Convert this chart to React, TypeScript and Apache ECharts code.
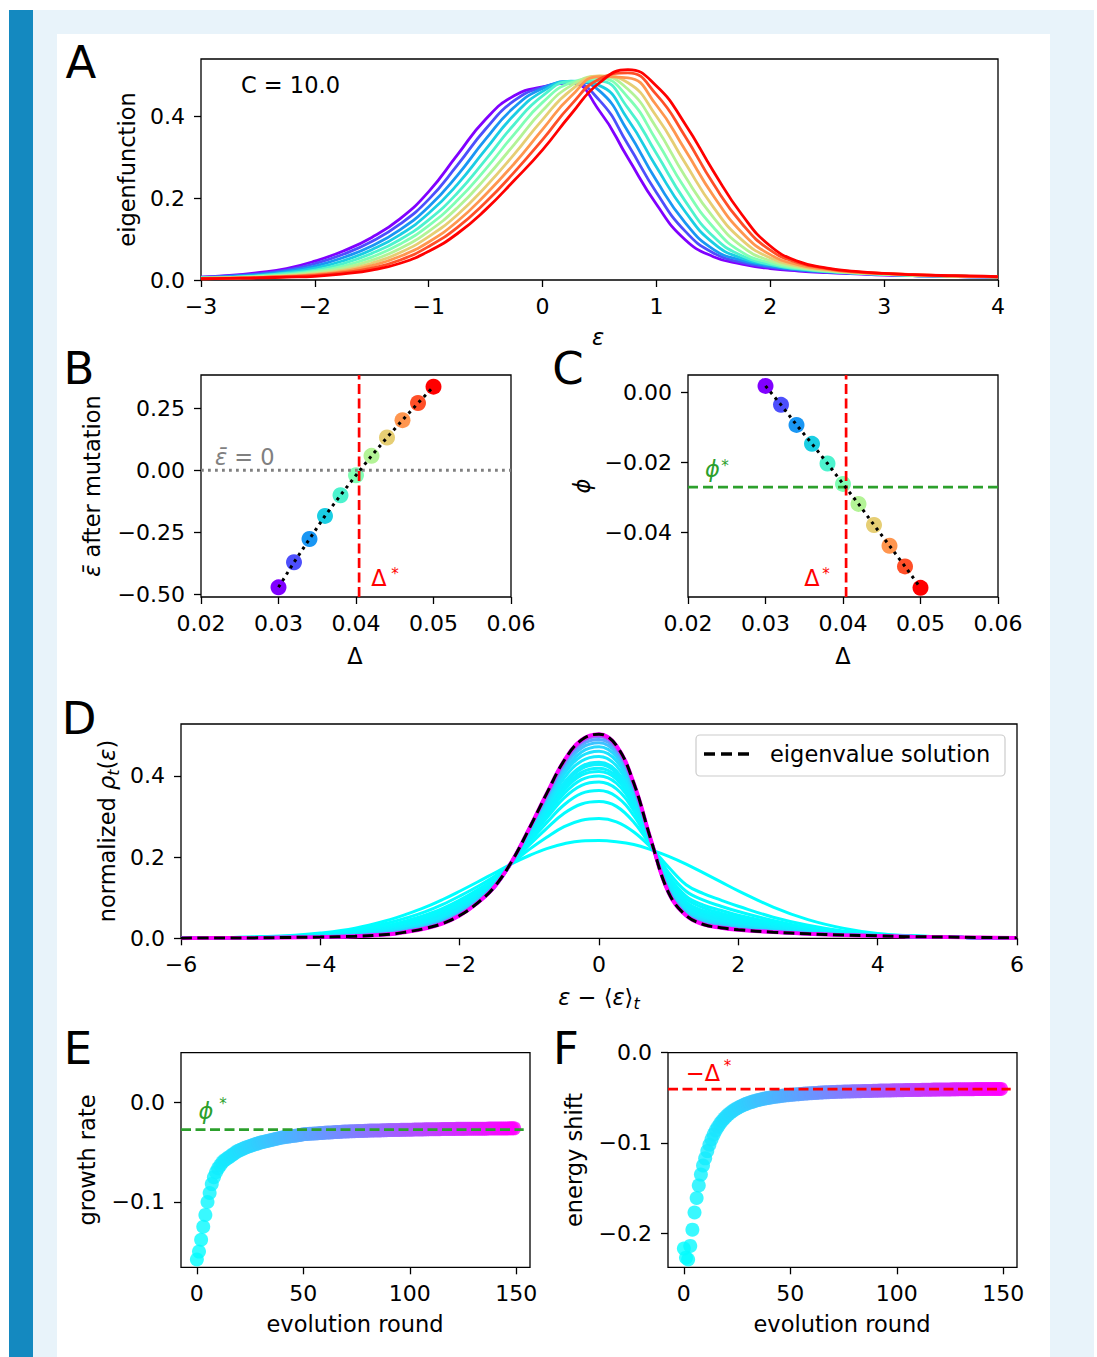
import React, { useEffect, useRef } from "react";
import * as echarts from "echarts";

// ---------------- DATA ----------------
// Panel A: eigenfunctions for 11 values of Delta (C = 10.0)
const A_EPS = [-3, -2.75, -2.5, -2.25, -2, -1.75, -1.5, -1.25, -1, -0.75, -0.5, -0.25, 0, 0.25, 0.5, 0.75, 1, 1.25, 1.5, 1.75, 2, 2.25, 2.5, 2.75, 3, 3.25, 3.5, 3.75, 4];
const A_EIGENFUNCTIONS = [
  [0.007, 0.011, 0.018, 0.028, 0.046, 0.071, 0.104, 0.150, 0.216, 0.305, 0.393, 0.450, 0.472, 0.481, 0.413, 0.298, 0.185, 0.099, 0.057, 0.039, 0.028, 0.022, 0.018, 0.015, 0.012, 0.011, 0.009, 0.008, 0.007],
  [0.007, 0.010, 0.015, 0.024, 0.040, 0.063, 0.094, 0.137, 0.197, 0.280, 0.369, 0.438, 0.471, 0.482, 0.439, 0.331, 0.214, 0.120, 0.066, 0.043, 0.031, 0.024, 0.019, 0.016, 0.013, 0.011, 0.009, 0.008, 0.007],
  [0.006, 0.009, 0.013, 0.021, 0.034, 0.055, 0.083, 0.123, 0.179, 0.255, 0.344, 0.422, 0.468, 0.485, 0.462, 0.363, 0.243, 0.141, 0.075, 0.048, 0.034, 0.025, 0.020, 0.017, 0.014, 0.011, 0.010, 0.009, 0.008],
  [0.005, 0.007, 0.011, 0.018, 0.029, 0.047, 0.074, 0.111, 0.163, 0.233, 0.319, 0.403, 0.461, 0.486, 0.475, 0.392, 0.276, 0.168, 0.090, 0.053, 0.037, 0.027, 0.021, 0.018, 0.015, 0.012, 0.011, 0.009, 0.008],
  [0.005, 0.006, 0.010, 0.016, 0.024, 0.040, 0.065, 0.099, 0.147, 0.212, 0.294, 0.380, 0.450, 0.485, 0.486, 0.420, 0.309, 0.194, 0.106, 0.059, 0.038, 0.027, 0.021, 0.017, 0.014, 0.011, 0.010, 0.008, 0.008],
  [0.005, 0.006, 0.009, 0.013, 0.021, 0.034, 0.056, 0.088, 0.133, 0.194, 0.271, 0.356, 0.434, 0.482, 0.493, 0.446, 0.341, 0.224, 0.129, 0.068, 0.042, 0.029, 0.022, 0.017, 0.014, 0.012, 0.010, 0.009, 0.008],
  [0.004, 0.005, 0.008, 0.011, 0.018, 0.029, 0.048, 0.077, 0.119, 0.176, 0.249, 0.331, 0.414, 0.475, 0.498, 0.466, 0.372, 0.254, 0.153, 0.082, 0.047, 0.031, 0.023, 0.018, 0.015, 0.012, 0.010, 0.009, 0.008],
  [0.004, 0.005, 0.007, 0.010, 0.015, 0.024, 0.041, 0.067, 0.106, 0.159, 0.228, 0.307, 0.392, 0.464, 0.499, 0.482, 0.400, 0.287, 0.178, 0.098, 0.054, 0.034, 0.024, 0.018, 0.015, 0.012, 0.010, 0.009, 0.008],
  [0.004, 0.005, 0.006, 0.009, 0.013, 0.021, 0.035, 0.058, 0.093, 0.143, 0.209, 0.284, 0.368, 0.449, 0.497, 0.494, 0.427, 0.319, 0.206, 0.116, 0.062, 0.037, 0.026, 0.019, 0.016, 0.013, 0.011, 0.009, 0.008],
  [0.003, 0.004, 0.006, 0.008, 0.011, 0.018, 0.029, 0.049, 0.082, 0.128, 0.190, 0.263, 0.343, 0.428, 0.491, 0.506, 0.453, 0.352, 0.235, 0.138, 0.073, 0.042, 0.028, 0.020, 0.016, 0.013, 0.011, 0.009, 0.008],
  [0.003, 0.004, 0.005, 0.007, 0.009, 0.015, 0.024, 0.041, 0.070, 0.113, 0.172, 0.243, 0.318, 0.405, 0.482, 0.514, 0.474, 0.382, 0.266, 0.160, 0.083, 0.045, 0.029, 0.021, 0.016, 0.013, 0.011, 0.010, 0.008],
];

// Panels B and C
const B_DELTA = [0.030, 0.032, 0.034, 0.036, 0.038, 0.040, 0.042, 0.044, 0.046, 0.048, 0.050];
const B_EPS_BAR = [-0.472, -0.371, -0.277, -0.184, -0.101, -0.020, 0.058, 0.132, 0.202, 0.271, 0.337];
const C_PHI = [0.0018, -0.0036, -0.0093, -0.0147, -0.0203, -0.0261, -0.0318, -0.0378, -0.0437, -0.0496, -0.0557];
const DELTA_STAR = 0.0404;
const PHI_STAR = -0.027;

// Panel D: normalized densities at selected evolution rounds
const D_EPS = [-6, -5.5, -5, -4.5, -4, -3.5, -3, -2.75, -2.5, -2.25, -2, -1.75, -1.5, -1.25, -1, -0.75, -0.5, -0.25, 0, 0.25, 0.5, 0.75, 1, 1.25, 1.5, 1.75, 2, 2.5, 3, 3.5, 4, 4.5, 5, 5.5, 6];
const D_ROUNDS = [0, 1, 2, 3, 4, 5, 6, 7, 8, 9, 12, 17, 23, 35, 50, 80, 110, 149];
const D_DENSITIES = [
  [0.000, 0.001, 0.003, 0.006, 0.013, 0.025, 0.046, 0.060, 0.076, 0.095, 0.116, 0.138, 0.161, 0.184, 0.204, 0.221, 0.233, 0.240, 0.241, 0.238, 0.231, 0.218, 0.202, 0.183, 0.161, 0.139, 0.117, 0.077, 0.046, 0.025, 0.012, 0.006, 0.003, 0.001, 0.000],
  [0.000, 0.001, 0.003, 0.005, 0.011, 0.021, 0.039, 0.051, 0.065, 0.083, 0.104, 0.127, 0.153, 0.185, 0.219, 0.249, 0.275, 0.291, 0.295, 0.287, 0.262, 0.223, 0.175, 0.132, 0.110, 0.094, 0.079, 0.052, 0.032, 0.018, 0.010, 0.006, 0.003, 0.001, 0.000],
  [0.000, 0.001, 0.002, 0.004, 0.009, 0.018, 0.033, 0.044, 0.057, 0.073, 0.094, 0.119, 0.147, 0.185, 0.230, 0.271, 0.308, 0.331, 0.337, 0.325, 0.286, 0.226, 0.162, 0.116, 0.094, 0.079, 0.066, 0.044, 0.027, 0.016, 0.009, 0.005, 0.003, 0.001, 0.000],
  [0.000, 0.001, 0.002, 0.004, 0.008, 0.016, 0.029, 0.039, 0.052, 0.067, 0.088, 0.113, 0.143, 0.186, 0.237, 0.285, 0.329, 0.357, 0.364, 0.349, 0.302, 0.228, 0.153, 0.104, 0.082, 0.069, 0.057, 0.039, 0.024, 0.015, 0.008, 0.005, 0.003, 0.001, 0.000],
  [0.000, 0.001, 0.002, 0.004, 0.007, 0.014, 0.026, 0.036, 0.047, 0.063, 0.083, 0.109, 0.140, 0.186, 0.243, 0.296, 0.346, 0.377, 0.385, 0.368, 0.314, 0.230, 0.147, 0.097, 0.075, 0.062, 0.052, 0.035, 0.022, 0.013, 0.008, 0.005, 0.003, 0.001, 0.000],
  [0.000, 0.001, 0.002, 0.004, 0.007, 0.013, 0.024, 0.033, 0.044, 0.059, 0.080, 0.106, 0.137, 0.187, 0.247, 0.304, 0.357, 0.391, 0.400, 0.382, 0.323, 0.231, 0.142, 0.090, 0.068, 0.057, 0.047, 0.032, 0.020, 0.013, 0.008, 0.005, 0.003, 0.001, 0.000],
  [0.000, 0.001, 0.002, 0.003, 0.006, 0.012, 0.023, 0.031, 0.042, 0.057, 0.077, 0.104, 0.136, 0.187, 0.250, 0.309, 0.366, 0.402, 0.411, 0.392, 0.329, 0.232, 0.138, 0.085, 0.063, 0.052, 0.043, 0.029, 0.019, 0.012, 0.007, 0.005, 0.003, 0.001, 0.000],
  [0.000, 0.001, 0.002, 0.003, 0.006, 0.011, 0.022, 0.030, 0.041, 0.055, 0.075, 0.102, 0.135, 0.187, 0.252, 0.313, 0.372, 0.409, 0.419, 0.399, 0.334, 0.233, 0.135, 0.081, 0.059, 0.049, 0.040, 0.027, 0.018, 0.011, 0.007, 0.005, 0.003, 0.001, 0.000],
  [0.000, 0.001, 0.002, 0.003, 0.006, 0.011, 0.020, 0.029, 0.039, 0.053, 0.073, 0.100, 0.133, 0.187, 0.255, 0.318, 0.379, 0.418, 0.428, 0.407, 0.339, 0.234, 0.133, 0.078, 0.056, 0.045, 0.037, 0.026, 0.017, 0.011, 0.007, 0.005, 0.003, 0.001, 0.000],
  [0.000, 0.001, 0.002, 0.003, 0.006, 0.010, 0.019, 0.028, 0.038, 0.052, 0.072, 0.099, 0.132, 0.187, 0.256, 0.321, 0.384, 0.424, 0.434, 0.413, 0.342, 0.234, 0.131, 0.075, 0.053, 0.043, 0.035, 0.024, 0.016, 0.011, 0.007, 0.005, 0.003, 0.001, 0.000],
  [0.000, 0.001, 0.002, 0.003, 0.005, 0.009, 0.018, 0.025, 0.035, 0.048, 0.069, 0.096, 0.131, 0.188, 0.260, 0.328, 0.395, 0.437, 0.448, 0.425, 0.350, 0.235, 0.126, 0.070, 0.048, 0.038, 0.032, 0.022, 0.015, 0.010, 0.007, 0.004, 0.003, 0.001, 0.000],
  [0.000, 0.001, 0.002, 0.003, 0.005, 0.008, 0.016, 0.023, 0.032, 0.045, 0.066, 0.094, 0.129, 0.188, 0.264, 0.335, 0.405, 0.449, 0.461, 0.437, 0.358, 0.237, 0.123, 0.066, 0.044, 0.035, 0.029, 0.020, 0.014, 0.009, 0.006, 0.004, 0.003, 0.001, 0.000],
  [0.000, 0.001, 0.001, 0.002, 0.004, 0.007, 0.014, 0.021, 0.030, 0.043, 0.063, 0.091, 0.128, 0.189, 0.267, 0.341, 0.413, 0.459, 0.472, 0.447, 0.364, 0.237, 0.120, 0.063, 0.041, 0.032, 0.026, 0.018, 0.013, 0.009, 0.006, 0.004, 0.003, 0.001, 0.000],
  [0.000, 0.001, 0.001, 0.002, 0.004, 0.007, 0.013, 0.020, 0.028, 0.041, 0.061, 0.089, 0.126, 0.189, 0.269, 0.346, 0.422, 0.469, 0.482, 0.456, 0.370, 0.238, 0.117, 0.060, 0.038, 0.030, 0.024, 0.017, 0.012, 0.008, 0.006, 0.004, 0.003, 0.001, 0.000],
  [0.000, 0.001, 0.001, 0.002, 0.003, 0.006, 0.012, 0.018, 0.027, 0.039, 0.059, 0.088, 0.126, 0.189, 0.270, 0.350, 0.428, 0.477, 0.490, 0.463, 0.375, 0.239, 0.115, 0.059, 0.037, 0.028, 0.023, 0.016, 0.012, 0.008, 0.006, 0.004, 0.003, 0.001, 0.000],
  [0.000, 0.001, 0.001, 0.002, 0.003, 0.005, 0.011, 0.017, 0.025, 0.037, 0.058, 0.087, 0.127, 0.190, 0.271, 0.354, 0.433, 0.483, 0.497, 0.469, 0.378, 0.239, 0.113, 0.057, 0.035, 0.027, 0.022, 0.016, 0.011, 0.008, 0.006, 0.004, 0.003, 0.001, 0.000],
  [0.000, 0.001, 0.001, 0.002, 0.003, 0.005, 0.010, 0.017, 0.025, 0.037, 0.057, 0.086, 0.127, 0.190, 0.271, 0.355, 0.436, 0.486, 0.500, 0.472, 0.380, 0.240, 0.112, 0.057, 0.035, 0.026, 0.021, 0.015, 0.011, 0.008, 0.006, 0.004, 0.003, 0.001, 0.000],
  [0.000, 0.001, 0.001, 0.002, 0.003, 0.005, 0.010, 0.016, 0.024, 0.036, 0.056, 0.086, 0.127, 0.190, 0.271, 0.357, 0.438, 0.489, 0.503, 0.475, 0.382, 0.240, 0.112, 0.056, 0.034, 0.026, 0.021, 0.015, 0.011, 0.008, 0.006, 0.004, 0.003, 0.002, 0.001],
];
const D_EIGEN = [0.000, 0.001, 0.001, 0.002, 0.003, 0.005, 0.010, 0.016, 0.024, 0.036, 0.056, 0.086, 0.127, 0.190, 0.271, 0.357, 0.438, 0.489, 0.503, 0.475, 0.382, 0.240, 0.112, 0.056, 0.034, 0.026, 0.021, 0.015, 0.011, 0.008, 0.006, 0.004, 0.003, 0.002, 0.001];

// Panels E and F: one value per evolution round (index = round)
const GROWTH_RATE = [
  -0.158, -0.150, -0.138, -0.125, -0.113, -0.100, -0.091, -0.082, -0.075, -0.070,
  -0.066, -0.063, -0.060, -0.058, -0.0565, -0.055, -0.0535, -0.052, -0.0505, -0.049,
  -0.048, -0.047, -0.046, -0.045, -0.0443, -0.0436, -0.0428, -0.0421, -0.0414, -0.0407,
  -0.040, -0.0395, -0.039, -0.0385, -0.038, -0.0375, -0.037, -0.0365, -0.036, -0.0355,
  -0.035, -0.0347, -0.0344, -0.0341, -0.0338, -0.0335, -0.0332, -0.0329, -0.0326, -0.0322,
  -0.0318, -0.0316, -0.0315, -0.0313, -0.0312, -0.031, -0.0309, -0.0307, -0.0306, -0.0304,
  -0.0302, -0.0301, -0.030, -0.0299, -0.0297, -0.0296, -0.0295, -0.0294, -0.0293, -0.0291,
  -0.029, -0.0289, -0.0288, -0.0287, -0.0287, -0.0286, -0.0285, -0.0284, -0.0284, -0.0283,
  -0.0282, -0.0281, -0.0281, -0.028, -0.028, -0.0279, -0.0279, -0.0278, -0.0277, -0.0277,
  -0.0276, -0.0276, -0.0275, -0.0275, -0.0274, -0.0274, -0.0273, -0.0273, -0.0272, -0.0272,
  -0.0271, -0.0271, -0.027, -0.027, -0.027, -0.0269, -0.0269, -0.0268, -0.0268, -0.0267,
  -0.0267, -0.0267, -0.0266, -0.0266, -0.0266, -0.0265, -0.0265, -0.0265, -0.0264, -0.0264,
  -0.0264, -0.0264, -0.0263, -0.0263, -0.0263, -0.0263, -0.0263, -0.0262, -0.0262, -0.0262,
  -0.0262, -0.0262, -0.0261, -0.0261, -0.0261, -0.0261, -0.0261, -0.026, -0.026, -0.026,
  -0.026, -0.026, -0.026, -0.0259, -0.0259, -0.0259, -0.0259, -0.0258, -0.0258, -0.0258,
];
const ENERGY_SHIFT = [
  -0.217, -0.227, -0.229, -0.214, -0.196, -0.177, -0.161, -0.147, -0.135, -0.125,
  -0.117, -0.109, -0.102, -0.096, -0.0905, -0.086, -0.082, -0.0785, -0.0755, -0.0728,
  -0.0703, -0.0682, -0.0662, -0.0645, -0.0629, -0.0615, -0.0602, -0.059, -0.0579, -0.0569,
  -0.056, -0.0552, -0.0544, -0.0537, -0.053, -0.0524, -0.0518, -0.0513, -0.0508, -0.0503,
  -0.0499, -0.0495, -0.0491, -0.0487, -0.0484, -0.0481, -0.0478, -0.0475, -0.0472, -0.047,
  -0.0467, -0.0465, -0.0463, -0.0461, -0.0459, -0.0457, -0.0455, -0.0453, -0.0451, -0.0449,
  -0.0448, -0.0446, -0.0445, -0.0443, -0.0442, -0.0441, -0.0439, -0.0438, -0.0437, -0.0436,
  -0.0435, -0.0434, -0.0433, -0.0433, -0.0432, -0.0431, -0.043, -0.043, -0.0429, -0.0428,
  -0.0428, -0.0427, -0.0426, -0.0426, -0.0425, -0.0424, -0.0424, -0.0423, -0.0423, -0.0422,
  -0.0421, -0.0421, -0.042, -0.042, -0.0419, -0.0419, -0.0418, -0.0418, -0.0417, -0.0417,
  -0.0416, -0.0416, -0.0415, -0.0415, -0.0414, -0.0414, -0.0414, -0.0413, -0.0413, -0.0412,
  -0.0412, -0.0412, -0.0411, -0.0411, -0.041, -0.041, -0.041, -0.0409, -0.0409, -0.0409,
  -0.0408, -0.0408, -0.0408, -0.0407, -0.0407, -0.0407, -0.0406, -0.0406, -0.0406, -0.0405,
  -0.0405, -0.0405, -0.0405, -0.0404, -0.0404, -0.0404, -0.0404, -0.0403, -0.0403, -0.0403,
  -0.0403, -0.0403, -0.0402, -0.0402, -0.0402, -0.0402, -0.0402, -0.0401, -0.0401, -0.0401,
];
const DASH_LINE_END_ROUND = 153.5;

// Tick values
const A_XTICKS = [-3, -2, -1, 0, 1, 2, 3, 4];
const A_YTICKS = [0, 0.2, 0.4];
const BC_XTICKS = [0.02, 0.03, 0.04, 0.05, 0.06];
const B_YTICKS = [-0.5, -0.25, 0, 0.25];
const C_YTICKS = [-0.04, -0.02, 0];
const D_XTICKS = [-6, -4, -2, 0, 2, 4, 6];
const D_YTICKS = [0, 0.2, 0.4];
const EF_XTICKS = [0, 50, 100, 150];
const E_YTICKS = [-0.1, 0];
const F_YTICKS = [-0.2, -0.1, 0];

// ---------------- STYLE ----------------
const FONT = "DejaVu Sans";
const RED = "#ff0000";
const GREEN = "#2ca02c";
const GRAY = "#808080";
const A_COLORS = ["#8000ff", "#4d4ffc", "#1a96f3", "#1acee3", "#4df3ce", "#80ffb4", "#b3f396", "#e6ce74", "#ff964f", "#ff4f28", "#ff0000"];
const cool = (f: number) => `rgb(${Math.round(255 * f)},${Math.round(255 * (1 - f))},255)`;
const MAX_ROUND = 149;

const RANGES = {
  A: { x: [-3, 4], y: [0, 0.54] },
  B: { x: [0.02, 0.06], y: [-0.511, 0.384] },
  C: { x: [0.02, 0.06], y: [-0.0583, 0.0049] },
  D: { x: [-6, 6], y: [0, 0.528] },
  E: { x: [-7.45, 156.45], y: [-0.1658, 0.0504] },
  F: { x: [-7.45, 156.45], y: [-0.2377, 0] },
};

const GRIDS = [
  { left: 201, top: 59, width: 797, height: 221 },
  { left: 201, top: 375, width: 310, height: 222 },
  { left: 688, top: 375, width: 310, height: 222 },
  { left: 181, top: 724, width: 836, height: 214.3 },
  { left: 181, top: 1052.7, width: 349, height: 214.6 },
  { left: 668, top: 1052.7, width: 349, height: 214.6 },
];

const minus = (s: string) => s.replace("-", "\u2212");

function axis(kind: "x" | "y", gridIndex: number, range: number[], ticks: number[], fmt: (v: number) => string) {
  return {
    type: "value",
    gridIndex,
    min: range[0],
    max: range[1],
    axisLine: { show: false, onZero: false },
    axisTick: { show: true, inside: false, length: 7, lineStyle: { color: "#000", width: 1.3 }, customValues: ticks },
    axisLabel: {
      show: true,
      customValues: ticks,
      formatter: (v: number) => fmt(v),
      color: "#000",
      fontFamily: FONT,
      fontSize: 22,
      margin: kind === "x" ? 15 : 16,
    },
    splitLine: { show: false },
    splitArea: { show: false },
  };
}

function text(x: number, y: number, t: string, o: any = {}) {
  const size = o.size ?? 22.5;
  return {
    type: "text",
    x,
    y,
    rotation: o.rotation ?? 0,
    z: 50,
    silent: true,
    style: {
      text: t,
      fill: o.color ?? "#000",
      fontSize: size,
      fontFamily: FONT,
      fontStyle: o.italic ? "italic" : "normal",
      align: o.align ?? "center",
      verticalAlign: "middle",
      textAlign: o.align ?? "center",
      textVerticalAlign: "middle",
      rich: o.rich,
    },
  };
}

function richSet(color: string) {
  const base = { fontFamily: FONT, fontSize: 22.5, fill: color, color, lineHeight: 28 };
  return {
    n: { ...base, fontStyle: "normal" },
    i: { ...base, fontStyle: "italic" },
    s: { fontFamily: FONT, fontSize: 16, fill: color, color, fontStyle: "italic", lineHeight: 14, verticalAlign: "bottom" },
  };
}

function buildOption() {
  const series: any[] = [];
  const base = { silent: true, animation: false, emphasis: { disabled: true } };
  const line = (xi: number, data: number[][], lineStyle: any, extra: any = {}) =>
    series.push({ ...base, type: "line", xAxisIndex: xi, yAxisIndex: xi, data, symbol: "none", showSymbol: false, lineStyle, ...extra });

  // A
  A_EIGENFUNCTIONS.forEach((ys, k) =>
    line(0, A_EPS.map((x, i) => [x, ys[i]]), { width: 2.8, color: A_COLORS[k] }, { smooth: 0.5, itemStyle: { color: A_COLORS[k] } })
  );

  // B
  line(1, [[RANGES.B.x[0], 0], [RANGES.B.x[1], 0]], { color: GRAY, width: 2.8, type: [2.8, 4.2] });
  line(1, [[DELTA_STAR, RANGES.B.y[0]], [DELTA_STAR, RANGES.B.y[1]]], { color: RED, width: 2.7, type: [10, 4.5] });
  const bPts = B_DELTA.map((d, i) => [d, B_EPS_BAR[i]]);
  line(1, bPts, { color: "#000", width: 3, type: [3, 4.5] });
  series.push({ ...base, type: "scatter", xAxisIndex: 1, yAxisIndex: 1, data: bPts, symbolSize: 16, itemStyle: { color: (p: any) => A_COLORS[p.dataIndex], opacity: 1 } });

  // C
  line(2, [[RANGES.C.x[0], PHI_STAR], [RANGES.C.x[1], PHI_STAR]], { color: GREEN, width: 2.7, type: [10, 5] });
  line(2, [[DELTA_STAR, RANGES.C.y[0]], [DELTA_STAR, RANGES.C.y[1]]], { color: RED, width: 2.7, type: [10, 4.5] });
  const cPts = B_DELTA.map((d, i) => [d, C_PHI[i]]);
  line(2, cPts, { color: "#000", width: 3, type: [3, 4.5] });
  series.push({ ...base, type: "scatter", xAxisIndex: 2, yAxisIndex: 2, data: cPts, symbolSize: 16, itemStyle: { color: (p: any) => A_COLORS[p.dataIndex], opacity: 1 } });

  // D
  D_DENSITIES.forEach((ys, j) => {
    const last = j === D_DENSITIES.length - 1;
    line(3, D_EPS.map((x, i) => [x, ys[i]]), { width: last ? 3.8 : 3, color: cool(D_ROUNDS[j] / MAX_ROUND) }, { smooth: 0.4 });
  });
  line(3, D_EPS.map((x, i) => [x, D_EIGEN[i]]), { width: 3, color: "#000", type: [11, 5.5] }, { smooth: 0.4, name: "eigenvalue solution" });

  // E
  line(4, [[RANGES.E.x[0], PHI_STAR], [DASH_LINE_END_ROUND, PHI_STAR]], { color: GREEN, width: 2.7, type: [10, 4.5] });
  const eIdx = series.length;
  series.push({ ...base, type: "scatter", xAxisIndex: 4, yAxisIndex: 4, data: GROWTH_RATE.map((v, i) => [i, v]), symbolSize: 14 });

  // F
  line(5, [[RANGES.F.x[0], -DELTA_STAR], [DASH_LINE_END_ROUND, -DELTA_STAR]], { color: RED, width: 2.7, type: [10, 4.5] });
  const fIdx = series.length;
  series.push({ ...base, type: "scatter", xAxisIndex: 5, yAxisIndex: 5, data: ENERGY_SHIFT.map((v, i) => [i, v]), symbolSize: 14 });

  const f1 = (v: number) => minus(v.toFixed(1));
  const f2 = (v: number) => minus(v.toFixed(2));
  const fi = (v: number) => minus(String(Math.round(v)));

  const xAxis = [
    axis("x", 0, RANGES.A.x, A_XTICKS, fi),
    axis("x", 1, RANGES.B.x, BC_XTICKS, f2),
    axis("x", 2, RANGES.C.x, BC_XTICKS, f2),
    axis("x", 3, RANGES.D.x, D_XTICKS, fi),
    axis("x", 4, RANGES.E.x, EF_XTICKS, fi),
    axis("x", 5, RANGES.F.x, EF_XTICKS, fi),
  ];
  const yAxis = [
    axis("y", 0, RANGES.A.y, A_YTICKS, f1),
    axis("y", 1, RANGES.B.y, B_YTICKS, f2),
    axis("y", 2, RANGES.C.y, C_YTICKS, f2),
    axis("y", 3, RANGES.D.y, D_YTICKS, f1),
    axis("y", 4, RANGES.E.y, E_YTICKS, f1),
    axis("y", 5, RANGES.F.y, F_YTICKS, f1),
  ];

  const ROT = Math.PI / 2;
  const blk = richSet("#000");
  const gray = richSet(GRAY);
  const elements: any[] = [
    // panel letters
    text(81, 62, "A", { size: 45 }),
    text(79, 368, "B", { size: 45 }),
    text(568, 368, "C", { size: 45 }),
    text(79, 718, "D", { size: 45 }),
    text(78, 1048, "E", { size: 45 }),
    text(566, 1048, "F", { size: 45 }),
    // annotations
    text(241, 84.5, "C = 10.0", { align: "left" }),
    text(215, 457, "{i|ε̄}{n| = 0}", { align: "left", color: GRAY, rich: gray }),
    text(379, 578, "Δ", { color: RED }),
    text(395, 573.8, "*", { color: RED, size: 15 }),
    text(712.5, 468.5, "ϕ", { color: GREEN, italic: true }),
    text(725, 465.8, "*", { color: GREEN, size: 15 }),
    text(812, 578, "Δ", { color: RED }),
    text(826, 573.8, "*", { color: RED, size: 15 }),
    text(206, 1111, "ϕ", { color: GREEN, italic: true }),
    text(223, 1103.8, "*", { color: GREEN, size: 15 }),
    text(703, 1072.5, "−Δ", { color: RED }),
    text(727.5, 1066.3, "*", { color: RED, size: 15 }),
    // axis titles
    text(127, 169.5, "eigenfunction", { rotation: ROT }),
    text(92, 486, "{i|ε̄}{n| after mutation}", { rotation: ROT, rich: blk }),
    text(582, 486, "ϕ", { rotation: ROT, italic: true }),
    text(107, 831, "{n|normalized }{i|ρ}{s|t}{n|(}{i|ε}{n|)}", { rotation: ROT, rich: blk }),
    text(87, 1160, "growth rate", { rotation: ROT }),
    text(574, 1160, "energy shift", { rotation: ROT }),
    text(598, 337, "ε", { italic: true }),
    text(355, 656, "Δ"),
    text(843, 656, "Δ"),
    text(599, 997, "{i|ε}{n| − ⟨}{i|ε}{n|⟩}{s|t}", { rich: blk }),
    text(355, 1324, "evolution round"),
    text(842, 1324, "evolution round"),
    // legend of D
    {
      type: "rect",
      z: 40,
      silent: true,
      shape: { x: 696, y: 735, width: 309, height: 41, r: 4 },
      style: { fill: "rgba(255,255,255,0.8)", stroke: "#cccccc", lineWidth: 1.2 },
    },
    {
      type: "line",
      z: 41,
      silent: true,
      shape: { x1: 704, y1: 754, x2: 750, y2: 754 },
      style: { stroke: "#000", lineWidth: 3.3, lineDash: [11, 6] },
    },
    text(770, 754, "eigenvalue solution", { align: "left" }),
  ];

  return {
    animation: false,
    grid: GRIDS.map((g) => ({
      ...g,
      show: true,
      borderColor: "#000",
      borderWidth: 1.3,
      backgroundColor: "transparent",
      containLabel: false,
      outerBoundsMode: "none",
    })),
    xAxis,
    yAxis,
    visualMap: [
      {
        type: "continuous",
        show: false,
        dimension: 0,
        min: 0,
        max: MAX_ROUND,
        seriesIndex: [eIdx, fIdx],
        inRange: { color: ["#00ffff", "#ff00ff"] },
      },
    ],
    series,
    graphic: { elements },
  };
}

export default function App() {
  const ref = useRef<HTMLDivElement>(null);
  useEffect(() => {
    if (!ref.current) return;
    const chart = echarts.init(ref.current, null, { renderer: "svg" });
    chart.setOption(buildOption() as any);
    return () => chart.dispose();
  }, []);
  return (
    <div style={{ position: "absolute", left: 0, top: 0, width: 1097, height: 1357, background: "#ffffff", overflow: "hidden" }}>
      <div style={{ position: "absolute", left: 9, top: 10, width: 1085, height: 1347, background: "#e8f3fa" }} />
      <div style={{ position: "absolute", left: 9, top: 10, width: 24, height: 1347, background: "#1489c0" }} />
      <div style={{ position: "absolute", left: 57, top: 34, width: 993, height: 1323, background: "#ffffff" }} />
      <div ref={ref} style={{ position: "absolute", left: 0, top: 0, width: 1097, height: 1357 }} />
    </div>
  );
}
